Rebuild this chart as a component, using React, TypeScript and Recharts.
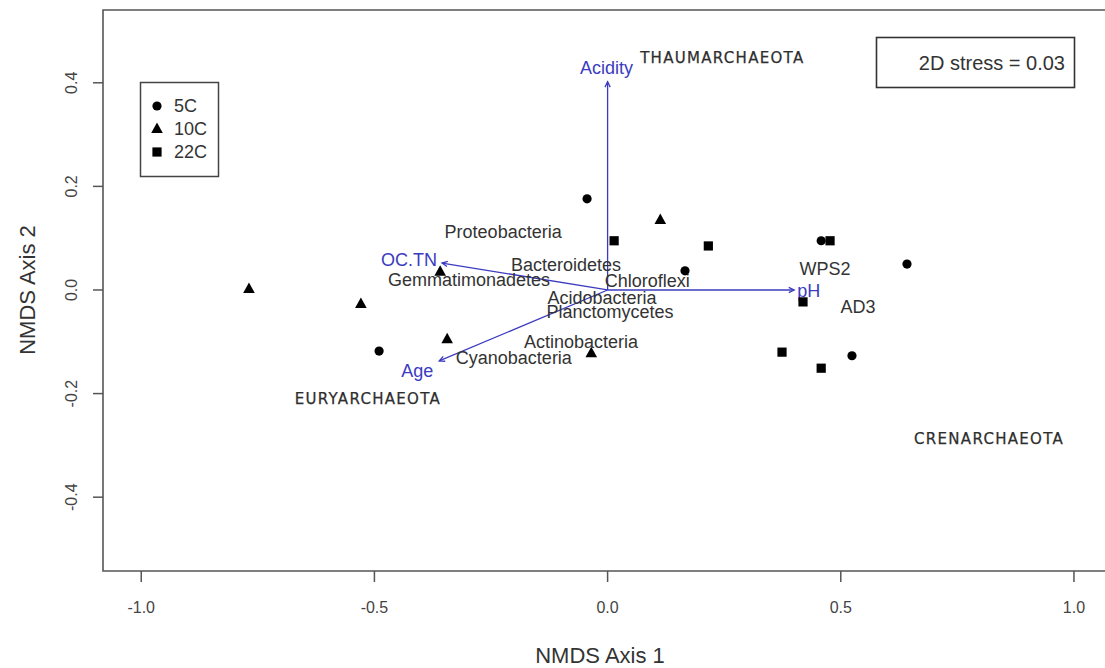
import React from "react";
import { ScatterChart, Scatter, XAxis, YAxis, ReferenceArea, ReferenceLine } from "recharts";

// NMDS site scores by incubation temperature
const groups = ["5C", "10C", "22C"];
const ax1_5C = [-0.044, 0.166, 0.458, 0.642, -0.49, 0.524];
const ax2_5C = [0.176, 0.037, 0.095, 0.05, -0.118, -0.127];
const ax1_10C = [-0.769, -0.529, -0.359, -0.344, -0.035, 0.113];
const ax2_10C = [0.002, -0.027, 0.035, -0.095, -0.122, 0.135];
const ax1_22C = [0.014, 0.216, 0.477, 0.419, 0.374, 0.458];
const ax2_22C = [0.095, 0.085, 0.095, -0.023, -0.12, -0.151];

// taxa (species scores)
const taxa = ["Proteobacteria", "Bacteroidetes", "Gemmatimonadetes", "Chloroflexi", "Acidobacteria", "Planctomycetes", "Actinobacteria", "Cyanobacteria", "WPS2", "AD3"];
const taxaAx1 = [-0.224, -0.089, -0.297, 0.085, -0.012, 0.005, -0.057, -0.201, 0.466, 0.537];
const taxaAx2 = [0.112, 0.048, 0.019, 0.017, -0.015, -0.042, -0.1, -0.131, 0.041, -0.033];

const archaea = ["THAUMARCHAEOTA", "EURYARCHAEOTA", "CRENARCHAEOTA"];
const archaeaAx1 = [0.246, -0.514, 0.818];
const archaeaAx2 = [0.448, -0.21, -0.288];

// envfit vectors
const vectors = ["Acidity", "pH", "OC.TN", "Age"];
const vecAx1 = [0, 0.4, -0.355, -0.361];
const vecAx2 = [0.402, 0, 0.052, -0.137];

const xTicks = [-1.0, -0.5, 0.0, 0.5, 1.0];
const yTicks = [-0.4, -0.2, 0.0, 0.2, 0.4];
const stress = 0.03;

const X_DOMAIN: [number, number] = [-1.082, 1.073];
const Y_DOMAIN: [number, number] = [-0.5425, 0.5405];

const FONT = "'Liberation Sans', Arial, sans-serif";
const BLUE = "#3b3bbf";
const INK = "#333";

const zip = (xs: number[], ys: number[]) => xs.map((x, i) => ({ x, y: ys[i] }));
const sites: Record<string, { x: number; y: number }[]> = {
  "5C": zip(ax1_5C, ax2_5C),
  "10C": zip(ax1_10C, ax2_10C),
  "22C": zip(ax1_22C, ax2_22C),
};
const taxaData = taxa.map((name, i) => ({ name, x: taxaAx1[i], y: taxaAx2[i] }));
const archaeaData = archaea.map((name, i) => ({ name, x: archaeaAx1[i], y: archaeaAx2[i] }));
const vecData = vectors.map((name, i) => ({ name, x: vecAx1[i], y: vecAx2[i] }));

function Marker({ kind, cx, cy }: { kind: string; cx: number; cy: number }) {
  if (kind === "5C") return <circle cx={cx} cy={cy} r={4.6} fill="#000" />;
  if (kind === "10C")
    return <polygon points={`${cx},${cy - 6.5} ${cx - 5.8},${cy + 4} ${cx + 5.8},${cy + 4}`} fill="#000" />;
  return <rect x={cx - 4.6} y={cy - 4.6} width={9.2} height={9.2} fill="#000" />;
}

function ArrowLine(p: any) {
  const { x1, y1, x2, y2 } = p;
  const a = Math.atan2(y2 - y1, x2 - x1);
  const h = 6;
  const s = 0.45;
  const ax = x2 - h * Math.cos(a - s);
  const ay = y2 - h * Math.sin(a - s);
  const bx = x2 - h * Math.cos(a + s);
  const by = y2 - h * Math.sin(a + s);
  return (
    <g stroke={BLUE} strokeWidth={1.3} fill="none">
      <line x1={x1} y1={y1} x2={x2} y2={y2} />
      <path d={`M${ax},${ay} L${x2},${y2} L${bx},${by}`} />
    </g>
  );
}

// where each vector label sits relative to the arrow tip
const vecLabelStyle: Record<string, { anchor: string; dx: number; dy: number }> = {
  Acidity: { anchor: "middle", dx: -1, dy: -14 },
  pH: { anchor: "start", dx: 3, dy: 1 },
  "OC.TN": { anchor: "end", dx: -5, dy: -3 },
  Age: { anchor: "end", dx: -6, dy: 10 },
};

const XTick = ({ x, payload }: any) => (
  <text x={x} y={607} textAnchor="middle" dominantBaseline="central" fontSize={16} fill="#444" fontFamily={FONT}>
    {Number(payload.value).toFixed(1)}
  </text>
);

const YTick = ({ y, payload }: any) => (
  <text
    x={72}
    y={y}
    transform={`rotate(-90, 72, ${y})`}
    textAnchor="middle"
    dominantBaseline="central"
    fontSize={16}
    fill="#444"
    fontFamily={FONT}
  >
    {Number(payload.value).toFixed(1)}
  </text>
);

export default function App() {
  return (
    <div style={{ position: "absolute", left: 0, top: 0, width: 1105, height: 668, overflow: "hidden", background: "#fff" }}>
      <ScatterChart width={1110} height={668} margin={{ top: 10, right: 2, bottom: 0, left: 0 }}>
        <XAxis
          type="number"
          dataKey="x"
          domain={X_DOMAIN}
          ticks={xTicks}
          allowDataOverflow
          axisLine={false}
          tickLine={{ stroke: "#555", strokeWidth: 1.5 }}
          tickSize={11}
          height={97}
          tick={<XTick />}
        />
        <YAxis
          type="number"
          dataKey="y"
          domain={Y_DOMAIN}
          ticks={yTicks}
          allowDataOverflow
          axisLine={false}
          tickLine={{ stroke: "#555", strokeWidth: 1.5 }}
          tickSize={10}
          width={103}
          tick={<YTick />}
        />
        <ReferenceArea
          x1={X_DOMAIN[0]}
          x2={X_DOMAIN[1]}
          y1={Y_DOMAIN[0]}
          y2={Y_DOMAIN[1]}
          fill="none"
          fillOpacity={0}
          stroke="#555"
          strokeWidth={1.6}
        />
        {vecData.map((v) => (
          <ReferenceLine
            key={v.name}
            segment={[{ x: 0, y: 0 }, { x: v.x, y: v.y }]}
            shape={(p: any) => <ArrowLine {...p} />}
          />
        ))}
        <Scatter
          data={taxaData}
          isAnimationActive={false}
          shape={(p: any) => (
            <text x={p.cx} y={p.cy} textAnchor="middle" dominantBaseline="central" fontSize={18} fill={INK} fontFamily={FONT}>
              {p.payload.name}
            </text>
          )}
        />
        <Scatter
          data={archaeaData}
          isAnimationActive={false}
          shape={(p: any) => (
            <text
              x={p.cx}
              y={p.cy}
              textAnchor="middle"
              dominantBaseline="central"
              fontSize={15}
              letterSpacing={1.3}
              fill="#2e2e2e"
              fontFamily="'DejaVu Sans', Verdana, sans-serif"
              stroke="#2e2e2e"
              strokeWidth={0.25}
            >
              {p.payload.name}
            </text>
          )}
        />
        <Scatter
          data={vecData}
          isAnimationActive={false}
          shape={(p: any) => {
            const st = vecLabelStyle[p.payload.name];
            return (
              <text
                x={p.cx + st.dx}
                y={p.cy + st.dy}
                textAnchor={st.anchor as any}
                dominantBaseline="central"
                fontSize={18}
                fill={BLUE}
                fontFamily={FONT}
              >
                {p.payload.name}
              </text>
            );
          }}
        />
        {groups.map((g) => (
          <Scatter
            key={g}
            name={g}
            data={sites[g]}
            isAnimationActive={false}
            shape={(p: any) => <Marker kind={g} cx={p.cx} cy={p.cy} />}
          />
        ))}
      </ScatterChart>

      {/* axis titles, legend and stress box */}
      <svg width={1105} height={668} style={{ position: "absolute", left: 0, top: 0, pointerEvents: "none" }}>
        <text x={600} y={655} textAnchor="middle" dominantBaseline="central" fontSize={22} fill={INK} fontFamily={FONT}>
          NMDS Axis 1
        </text>
        <text
          x={27}
          y={290}
          transform="rotate(-90, 27, 290)"
          textAnchor="middle"
          dominantBaseline="central"
          fontSize={22}
          fill={INK}
          fontFamily={FONT}
        >
          NMDS Axis 2
        </text>

        <rect x={140.5} y={82.5} width={78} height={94} fill="#fff" stroke="#444" strokeWidth={1.5} />
        {groups.map((g, i) => (
          <g key={g}>
            <Marker kind={g} cx={157} cy={106 + i * 23} />
            <text x={174} y={106 + i * 23} dominantBaseline="central" fontSize={18} fill={INK} fontFamily={FONT}>
              {g}
            </text>
          </g>
        ))}

        <rect x={876.5} y={37.5} width={198} height={50} fill="#fff" stroke="#333" strokeWidth={1.6} />
        <text x={1065} y={63} textAnchor="end" dominantBaseline="central" fontSize={20} fill={INK} fontFamily={FONT}>
          {`2D stress = ${stress.toFixed(2)}`}
        </text>
      </svg>
    </div>
  );
}
